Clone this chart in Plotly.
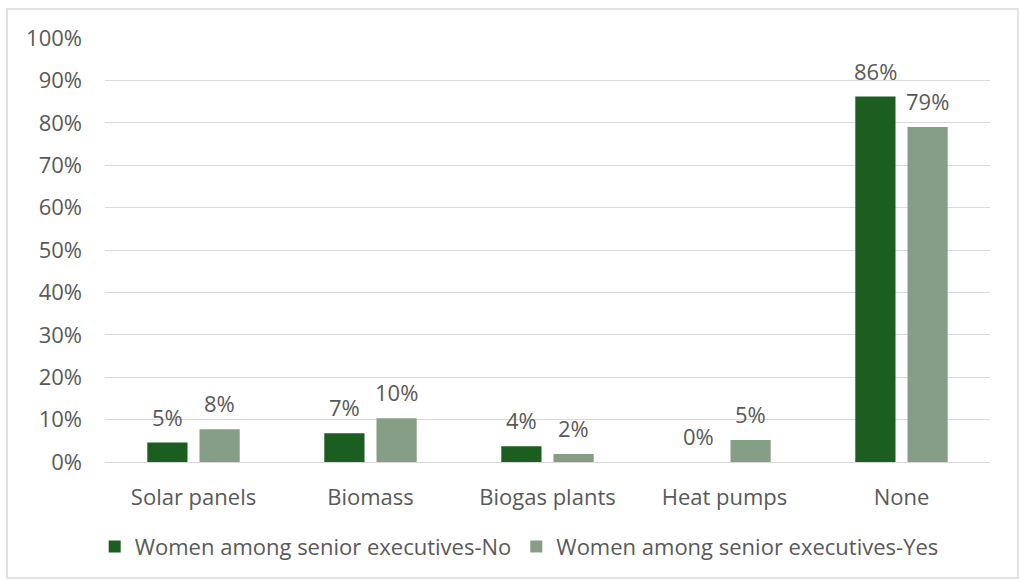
import plotly.graph_objects as go

categories = ["Solar panels", "Biomass", "Biogas plants", "Heat pumps", "None"]
series_no_name = "Women among senior executives-No"
series_yes_name = "Women among senior executives-Yes"
values_no = [4.6, 6.8, 3.7, 0.0, 86.2]
values_yes = [7.7, 10.3, 1.9, 5.2, 79.0]
y_ticks = [0, 10, 20, 30, 40, 50, 60, 70, 80, 90, 100]

COL_NO = "#1B5E20"
COL_YES = "#869E86"
TXT = "#595959"
FONT = "Open Sans"
FS = 22

W, H = 1021, 580
L, R, T, B = 105, 31, 38, 118
PW, PH = W - L - R, H - T - B

fig = go.Figure()
fig.add_trace(go.Bar(x=categories, y=values_no, name=series_no_name,
                     marker=dict(color=COL_NO, line=dict(width=0))))
fig.add_trace(go.Bar(x=categories, y=values_yes, name=series_yes_name,
                     marker=dict(color=COL_YES, line=dict(width=0))))

# data labels
slot = PW / len(categories)
bar_gap = 0.41
bgg = 0.23
grp = slot * (1 - bar_gap)
offs = grp / 4
annotations = []
for vals, sh in ((values_no, -offs), (values_yes, offs)):
    for c, v in zip(categories, vals):
        annotations.append(dict(x=c, y=v, xref="x", yref="y", text=f"{v:.0f}%",
                                showarrow=False, yanchor="bottom", xshift=sh, yshift=9,
                                font=dict(family=FONT, size=FS, color=TXT)))

def px_to_paper_x(px):
    return (px - L) / PW

def px_to_paper_y(py):
    return (H - B - py) / PH

shapes = [dict(type="rect", xref="paper", yref="paper",
               x0=px_to_paper_x(7), x1=px_to_paper_x(1018),
               y0=px_to_paper_y(578), y1=px_to_paper_y(9),
               line=dict(color="#D9D9D9", width=1.5), fillcolor="rgba(0,0,0,0)", layer="below")]

fig.update_layout(
    width=W, height=H, autosize=False,
    margin=dict(l=L, r=R, t=T, b=B, pad=0),
    paper_bgcolor="white", plot_bgcolor="white",
    barmode="group", bargap=bar_gap, bargroupgap=bgg,
    font=dict(family=FONT, size=FS, color=TXT),
    legend=dict(orientation="h", x=0.468, xanchor="center", y=-0.2, yanchor="middle",
                font=dict(family=FONT, size=FS, color=TXT), itemwidth=30,
                traceorder="normal", itemclick=False),
    annotations=annotations,
    shapes=shapes,
    showlegend=True,
)
fig.update_yaxes(range=[0, 100], tickvals=y_ticks, ticktext=[f"{t}%" for t in y_ticks],
                 showgrid=True, gridcolor="#D9D9D9", gridwidth=1.3, zeroline=False,
                 showline=False, ticks="", ticklabelstandoff=22, fixedrange=True)
fig.update_xaxes(showgrid=False, showline=True, linecolor="#D9D9D9", linewidth=1.3,
                 ticks="", ticklabelstandoff=15, fixedrange=True)

fig.write_html("out.html", config={"displayModeBar": False})
